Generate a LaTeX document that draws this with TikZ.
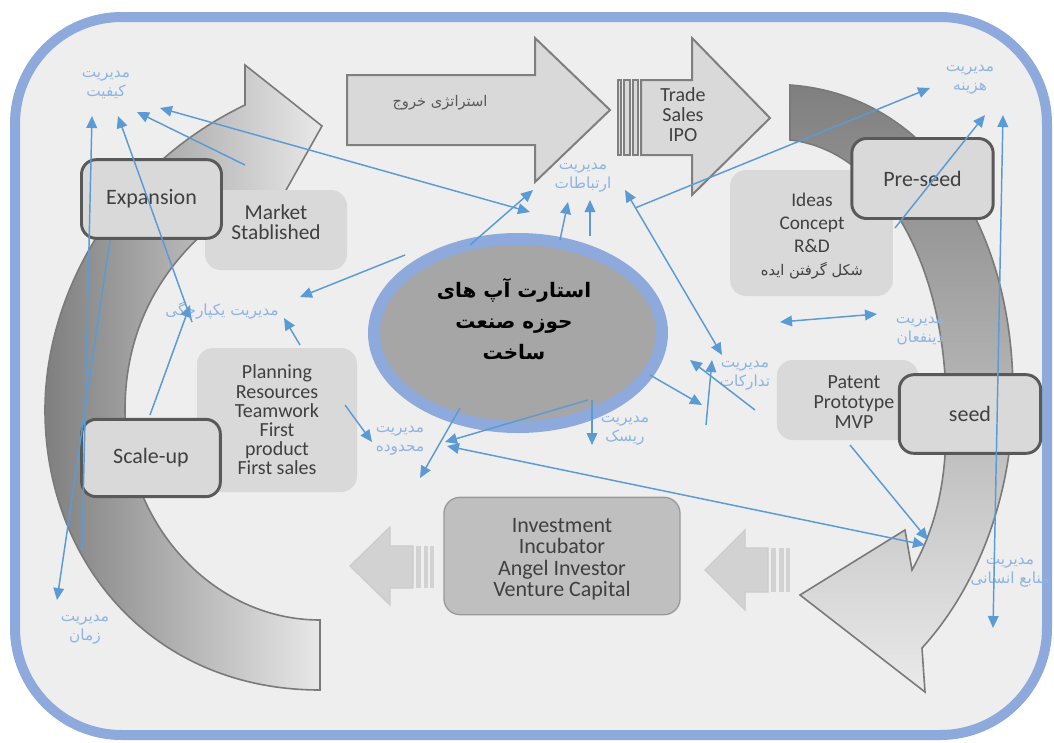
\documentclass[tikz,border=0pt]{standalone}
\usepackage{fontspec}
\setmainfont{Carlito}
\newfontfamily\fa[Script=Arabic]{DejaVu Sans}
\TeXXeTstate=1
\usetikzlibrary{arrows.meta,shapes.geometric,calc}
\definecolor{frameblue}{HTML}{8EA9DB}
\definecolor{bgray}{HTML}{EEEEEE}
\definecolor{boxgray}{HTML}{D9D9D9}
\definecolor{darkline}{HTML}{595959}
\definecolor{txtgray}{HTML}{404040}
\definecolor{linkblue}{HTML}{5B9BD5}
\definecolor{lblblue}{HTML}{8DB4E2}
\definecolor{arrowgray}{HTML}{7F7F7F}
\definecolor{midgray}{HTML}{A6A6A6}
\definecolor{invgray}{HTML}{BFBFBF}
\tikzset{
  link/.style={linkblue, line width=1.1pt, -{Triangle[length=9pt,width=8pt]}},
  linkboth/.style={link, {Triangle[length=9pt,width=8pt]}-{Triangle[length=9pt,width=8pt]}},
  lbl/.style={text=lblblue, font=\fa\fontsize{11.5}{14}\selectfont, align=center, inner sep=0pt},
  stagebox/.style={draw=darkline, line width=2.2pt, fill=boxgray, rounded corners=11pt,
    text=txtgray, font=\fontsize{16.5}{18}\selectfont, inner sep=0pt},
  notebox/.style={fill=boxgray, rounded corners=12pt, text=txtgray, align=center, inner sep=0pt},
  boxtext/.style={text=txtgray, align=center, inner sep=0pt},
  blockarrow/.style={fill=boxgray, draw=arrowgray, line width=1.5pt, line join=miter},
  smallarrow/.style={fill=invgray!70, draw=invgray!80!white, line width=1pt},
}
\begin{document}
\begin{tikzpicture}[x=0.75pt,y=-0.75pt]
\useasboundingbox (0,0) rectangle (1054,743);
% frame
\draw[frameblue, line width=7.5pt, fill=bgray, rounded corners=80pt] (15,17) rectangle (1047,735);

% left circular arrow
\shade[left color=arrowgray, right color=boxgray!60, draw=darkline!80, line width=1.2pt]
  (320,690) .. controls (150,690) and (45,560) .. (45,410)
  .. controls (45,300) and (110,170) .. (245,105)
  -- (245,65) -- (322,126) -- (258,240) -- (252,198)
  .. controls (180,240) and (125,310) .. (125,410)
  .. controls (125,520) and (210,620) .. (320,620) -- cycle;

% right circular arrow
\shade[top color=arrowgray, bottom color=boxgray!55, draw=darkline!80, line width=1.2pt]
  (790,85) .. controls (930,95) and (1015,230) .. (1013,400)
  .. controls (1012,500) and (975,590) .. (922,648)
  -- (925,692) -- (800,595) -- (905,530) -- (912,570)
  .. controls (940,520) and (948,470) .. (946,400)
  .. controls (944,260) and (880,150) .. (790,140) -- cycle;

% exit strategy arrow
\draw[blockarrow] (347,75) -- (535,75) -- (535,38) -- (610,110) -- (535,182) -- (535,145) -- (347,145) -- cycle;
\node[text=darkline, font=\fa\fontsize{11}{12}\selectfont] (exit) at (440,103) {\beginR استراتژی خروج\endR};

% trade sales arrow
\foreach \a/\b in {618/621,624/630,633/638}
  \draw[blockarrow, line width=1pt] (\a,80) rectangle (\b,155);
\draw[blockarrow] (641,80) -- (692,80) -- (692,38) -- (770,118) -- (692,195) -- (692,155) -- (641,155) -- cycle;
\node[boxtext, font=\fontsize{15}{15}\selectfont] (trade) at (683,115) {Trade\\Sales\\IPO};

% small flow arrows
\foreach \a/\b in {771/776,779/784,786/790}
  \fill[invgray!70] (\a,548) rectangle (\b,592);
\draw[smallarrow] (768,548) -- (745,548) -- (745,530) -- (705,570) -- (745,610) -- (745,592) -- (768,592) -- cycle;
\foreach \a/\b in {416/421,424/428,430/434}
  \fill[invgray!70] (\a,546) rectangle (\b,588);
\draw[smallarrow] (413,546) -- (390,546) -- (390,527) -- (350,566) -- (390,605) -- (390,588) -- (413,588) -- cycle;

% note boxes
\node[notebox, minimum width=106.5pt, minimum height=60pt] (market) at (276,230) {};
\node[boxtext, font=\fontsize{16}{15}\selectfont] (markettxt) at (276,222) {Market\\Stablished};
\node[notebox, minimum width=120pt, minimum height=108pt, font=\fontsize{15}{14.4}\selectfont] (plan) at (277,420) {Planning\\Resources\\Teamwork\\First\\product\\First sales};
\node[notebox, minimum width=122pt, minimum height=94.5pt] (ideas) at (811.5,233) {};
\node[boxtext, font=\fontsize{14.5}{17.25}\selectfont] (ideastxt) at (812,236) {Ideas\\Concept\\R\&D\\{\fa\fontsize{11}{12}\selectfont\beginR شکل گرفتن ایده\endR}};
\node[notebox, minimum width=106pt, minimum height=60pt] (patent) at (847.5,400) {};
\node[boxtext, font=\fontsize{15}{15}\selectfont] (patenttxt) at (854,402) {Patent\\Prototype\\MVP};

% stage boxes
\node[stagebox, minimum width=105pt, minimum height=59pt] (expansion) at (151.5,199) {Expansion};
\node[stagebox, minimum width=104pt, minimum height=58pt] (scaleup) at (151,458) {Scale-up};
\node[stagebox, minimum width=106pt, minimum height=60pt] (preseed) at (922.5,178.5) {Pre-seed};
\node[stagebox, minimum width=106pt, minimum height=59pt] (seed) at (970,414) {seed};

% funding box
\node[fill=invgray, draw=invgray!80!black, line width=1pt, rounded corners=12pt, minimum width=177pt, minimum height=88pt] (invest) at (562,556) {};
\node[boxtext, font=\fontsize{16.5}{16.1}\selectfont] (investtxt) at (562,559) {Investment\\Incubator\\Angel Investor\\Venture Capital};

% central ellipse
\node[ellipse, draw=frameblue, line width=9pt, fill=midgray, minimum width=216pt, minimum height=141pt] (core) at (518,333) {};
\node[align=center, font=\fa\bfseries\fontsize{15}{23}\selectfont] (coretxt) at (514,319) {\beginR استارت آپ های\endR\\\beginR حوزه صنعت\endR\\\beginR ساخت\endR};

% labels
\node[lbl] (quality) at (106,85) {\beginR مدیریت\endR\\\beginR کیفیت\endR};
\node[lbl] (comm) at (583,178) {\beginR مدیریت\endR\\\beginR ارتباطات\endR};
\node[lbl] (cost) at (970,80) {\beginR مدیریت\endR\\\beginR هزینه\endR};
\node[lbl] (integ) at (222,310) {\beginR مدیریت یکپارچگی\endR};
\node[lbl] (scope) at (400,441) {\beginR مدیریت\endR\\\beginR محدوده\endR};
\node[lbl] (risk) at (625,431) {\beginR مدیریت\endR\\\beginR ریسک\endR};
\node[lbl] (proc) at (745,376) {\beginR مدیریت\endR\\\beginR تدارکات\endR};
\node[lbl] (stake) at (920,331) {\beginR مدیریت\endR\\\beginR ذینفعان\endR};
\node[lbl] (hr) at (1010,573) {\beginR مدیریت\endR\\\beginR منابع انسانی\endR};
\node[lbl] (time) at (85,630) {\beginR مدیریت\endR\\\beginR زمان\endR};

% connector end points
\coordinate (k1a) at (82,550);  \coordinate (k1b) at (92,116);
\coordinate (k2a) at (192,322); \coordinate (k2b) at (118,116);
\coordinate (k3a) at (245,165); \coordinate (k3b) at (137,112);
\coordinate (k4a) at (530,212); \coordinate (k4b) at (160,108);
\coordinate (y1a) at (405,255); \coordinate (y1b) at (300,297);
\coordinate (y2a) at (300,345); \coordinate (y2b) at (284,318);
\coordinate (y3a) at (150,415); \coordinate (y3b) at (190,305);
\coordinate (t0a) at (110,240); \coordinate (t0b) at (57,600);
\coordinate (m1a) at (345,405); \coordinate (m1b) at (372,442);
\coordinate (m2a) at (588,400); \coordinate (m2b) at (445,442);
\coordinate (m3a) at (460,408); \coordinate (m3b) at (420,478);
\coordinate (hr1a) at (447,446); \coordinate (hr1b) at (925,545);
\coordinate (hr2a) at (850,445); \coordinate (hr2b) at (928,540);
\coordinate (c1a) at (560,240); \coordinate (c1b) at (568,202);
\coordinate (c2a) at (590,236); \coordinate (c2b) at (590,200);
\coordinate (c3a) at (470,245); \coordinate (c3b) at (533,190);
\coordinate (h1a) at (635,208); \coordinate (h1b) at (930,88);
\coordinate (h2a) at (895,228); \coordinate (h2b) at (985,115);
\coordinate (h3a) at (993,628); \coordinate (h3b) at (1003,115);
\coordinate (n1a) at (780,322); \coordinate (n1b) at (877,314);
\coordinate (p1a) at (625,190); \coordinate (p1b) at (722,355);
\coordinate (p2a) at (706,425); \coordinate (p2b) at (712,360);
\coordinate (p3a) at (650,375); \coordinate (p3b) at (702,405);
\coordinate (p4a) at (755,410); \coordinate (p4b) at (690,360);
\coordinate (r1a) at (592,400); \coordinate (r1b) at (592,445);

\foreach \s in {k1,k2,k3,y1,y2,y3,t0,m1,m2,m3,hr2,c1,c2,c3,h1,h2,p2,p3,p4,r1}
  \draw[link] (\s a) -- (\s b);
\foreach \s in {k4,hr1,h3,n1,p1}
  \draw[linkboth] (\s a) -- (\s b);
\end{tikzpicture}
\end{document}
